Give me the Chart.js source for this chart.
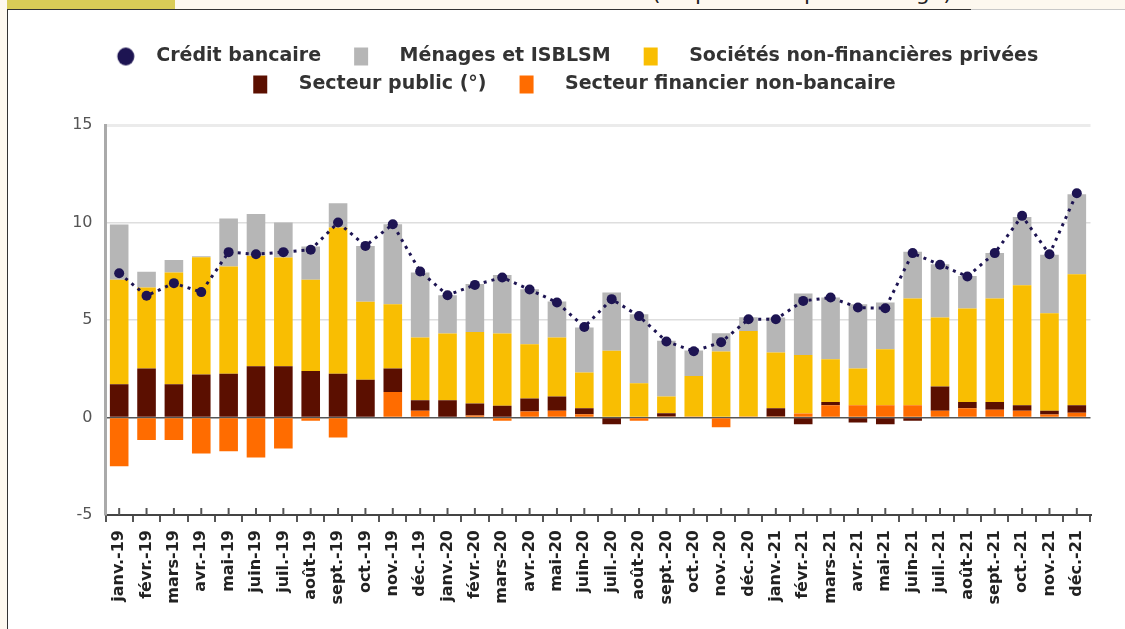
<!DOCTYPE html>
<html lang="fr">
<head>
<meta charset="utf-8">
<title>Crédit bancaire</title>
<script src="https://cdn.jsdelivr.net/npm/chart.js@4.4.1/dist/chart.umd.min.js"></script>
<style>
  html, body { margin: 0; padding: 0; }
  body { width: 1125px; height: 629px; background: #fdf8ef; position: relative; overflow: hidden; font-family: "DejaVu Sans", sans-serif; }
  #title { position: absolute; left: 652px; top: -20px; font-size: 22px; color: #222; white-space: nowrap; }
  #tab { position: absolute; left: 7px; top: 0; width: 168px; height: 9px; background: #d9cc57; }
  #panel { position: absolute; left: 7px; top: 9px; width: 1118px; height: 620px; background: #fff; border-top: 1px solid #333; border-left: 1px solid #333; }
  #topline { position: absolute; left: 971px; top: 9px; width: 154px; height: 1px; background: #c8c8c8; }
  #chart { position: absolute; left: 8px; top: 11px; }
</style>
</head>
<body>
<div id="title">(en points de pourcentage)</div>
<div id="tab"></div>
<div id="panel"></div>
<div id="topline"></div>
<canvas id="chart" width="1117" height="618"></canvas>
<script>
const months = ['janv.-19', 'févr.-19', 'mars-19', 'avr.-19', 'mai-19', 'juin-19', 'juil.-19', 'août-19', 'sept.-19', 'oct.-19', 'nov.-19', 'déc.-19',
  'janv.-20', 'févr.-20', 'mars-20', 'avr.-20', 'mai-20', 'juin-20', 'juil.-20', 'août-20', 'sept.-20', 'oct.-20', 'nov.-20', 'déc.-20',
  'janv.-21', 'févr.-21', 'mars-21', 'avr.-21', 'mai-21', 'juin-21', 'juil.-21', 'août-21', 'sept.-21', 'oct.-21', 'nov.-21', 'déc.-21'];

const credit = [7.4, 6.24, 6.89, 6.43, 8.48, 8.37, 8.48, 8.6, 10.0, 8.8, 9.91, 7.49,
  6.27, 6.8, 7.18, 6.56, 5.9, 4.64, 6.07, 5.2, 3.9, 3.4, 3.86, 5.04,
  5.04, 5.98, 6.15, 5.64, 5.6, 8.43, 7.83, 7.23, 8.43, 10.34, 8.37, 11.5];
const menages = [2.84, 0.8, 0.64, 0.05, 2.46, 2.14, 1.8, 1.71, 1.25, 2.87, 4.1, 3.34,
  1.96, 2.45, 3.0, 2.82, 1.85, 2.31, 2.99, 3.54, 2.85, 1.3, 0.94, 0.7,
  1.8, 3.15, 3.16, 3.3, 2.4, 2.4, 2.73, 1.67, 2.33, 3.5, 3.0, 4.1];
const societes = [5.36, 4.16, 5.74, 6.02, 5.5, 5.66, 5.57, 4.67, 7.5, 4.0, 3.3, 3.21,
  3.42, 3.67, 3.71, 2.79, 3.02, 1.83, 3.42, 1.76, 0.86, 2.08, 3.38, 4.39,
  2.85, 3.01, 2.19, 1.88, 2.87, 5.47, 3.54, 4.79, 5.3, 6.15, 5.0, 6.72];
const secteurPublic = [1.7, 2.51, 1.7, 2.2, 2.24, 2.63, 2.63, 2.39, 2.24, 1.93, 1.2, 0.55,
  0.89, 0.62, 0.6, 0.66, 0.74, 0.31, -0.34, 0, 0.17, 0, 0, 0,
  0.43, -0.34, 0.17, -0.26, -0.34, -0.17, 1.25, 0.32, 0.4, 0.29, 0.19, 0.38];
const financier = [-2.5, -1.16, -1.16, -1.85, -1.73, -2.05, -1.59, -0.17, -1.03, 0, 1.31, 0.34,
  0, 0.1, -0.17, 0.31, 0.34, 0.17, 0, -0.17, 0.05, 0.05, -0.5, 0.05,
  0.05, 0.2, 0.63, 0.63, 0.63, 0.63, 0.34, 0.48, 0.4, 0.34, 0.15, 0.25];

const navy = '#1d1452';

// legend markers: a blank lead, the swatch, then a gap before the text
function legendMark(color, round) {
  const c = document.createElement('canvas');
  c.width = 60;
  c.height = 20;
  const g = c.getContext('2d');
  g.fillStyle = color;
  if (round) {
    g.beginPath();
    g.ellipse(39, 10, 8.5, 9, 0, 0, Math.PI * 2);
    g.fill();
  } else {
    g.fillRect(24, 1, 14, 18);
  }
  return c;
}

const barOpts = { type: 'bar', stack: 'bars', barPercentage: 0.85, categoryPercentage: 0.8 };

const datasets = [
  { type: 'line', label: 'Crédit bancaire', data: credit, stack: 'line', order: 0,
    borderColor: navy, borderWidth: 3, borderDash: [3, 5], tension: 0,
    pointRadius: 5, pointBackgroundColor: navy, pointBorderWidth: 0, mark: legendMark(navy, true) },
  { ...barOpts, label: 'Ménages et ISBLSM', data: menages, order: 4, backgroundColor: '#b6b6b6', mark: legendMark('#b6b6b6') },
  { ...barOpts, label: 'Sociétés non-financières privées', data: societes, order: 3, backgroundColor: '#f9be02', mark: legendMark('#f9be02') },
  { ...barOpts, label: 'Secteur public (°)', data: secteurPublic, order: 2, backgroundColor: '#5b0f00', mark: legendMark('#5b0f00') },
  { ...barOpts, label: 'Secteur financier non-bancaire', data: financier, order: 1, backgroundColor: '#ff6c00', mark: legendMark('#ff6c00') }
];

// fixed legend height so the plot starts where the reference does
const legendHeight = {
  id: 'legendHeight',
  afterInit(chart) {
    const fit = chart.legend.fit;
    chart.legend.fit = function () {
      fit.call(this);
      this.height = 87;
    };
  }
};

// tick marks crossing the x axis line
const crossTicks = {
  id: 'crossTicks',
  afterDatasetsDraw(chart) {
    const x = chart.scales.x;
    const ctx = chart.ctx;
    ctx.save();
    ctx.strokeStyle = '#555';
    ctx.lineWidth = 2;
    x.ticks.forEach((t, i) => {
      const px = x.getPixelForTick(i);
      ctx.beginPath();
      ctx.moveTo(px, x.top - 7);
      ctx.lineTo(px, x.top);
      ctx.stroke();
    });
    ctx.restore();
  }
};

const defaultLabels = Chart.defaults.plugins.legend.labels.generateLabels;

new Chart(document.getElementById('chart'), {
  data: { labels: months, datasets: datasets },
  options: {
    responsive: false,
    animation: false,
    layout: { padding: { top: 27, left: 26.5, right: 34.5, bottom: 0 } },
    plugins: {
      tooltip: { enabled: false },
      legend: {
        position: 'top',
        labels: {
          usePointStyle: true,
          pointStyleWidth: 60,
          padding: 9,
          color: '#333',
          font: { family: 'DejaVu Sans', size: 19, weight: 'bold' },
          generateLabels(chart) {
            const items = defaultLabels(chart);
            items.forEach(it => { it.pointStyle = chart.data.datasets[it.datasetIndex].mark; });
            return items;
          },
          sort: (a, b) => a.datasetIndex - b.datasetIndex
        }
      }
    },
    scales: {
      x: {
        stacked: true,
        afterFit(s) { s.height = 114; },
        grid: { display: true, drawOnChartArea: false, tickLength: 7, color: '#555', lineWidth: 2 },
        border: { color: '#444', width: 2 },
        ticks: {
          autoSkip: false, maxRotation: 90, minRotation: 90, padding: 8, color: '#222',
          font: { family: 'DejaVu Sans', size: 16, weight: 'bold' }
        }
      },
      y: {
        stacked: true,
        min: -5,
        max: 15,
        afterFit(s) { s.width = 71; },
        grid: {
          drawTicks: false,
          color: c => c.tick.value === 15 ? '#ebebeb' : c.tick.value === 0 ? '#555' : c.tick.value === -5 ? 'rgba(0,0,0,0)' : '#dedede',
          lineWidth: c => c.tick.value === 15 ? 3 : 1.5
        },
        border: { color: '#aaa', width: 3 },
        ticks: { stepSize: 5, padding: 13, color: '#555', font: { family: 'DejaVu Sans', size: 16 } }
      }
    }
  },
  plugins: [legendHeight, crossTicks]
});
</script>
</body>
</html>
